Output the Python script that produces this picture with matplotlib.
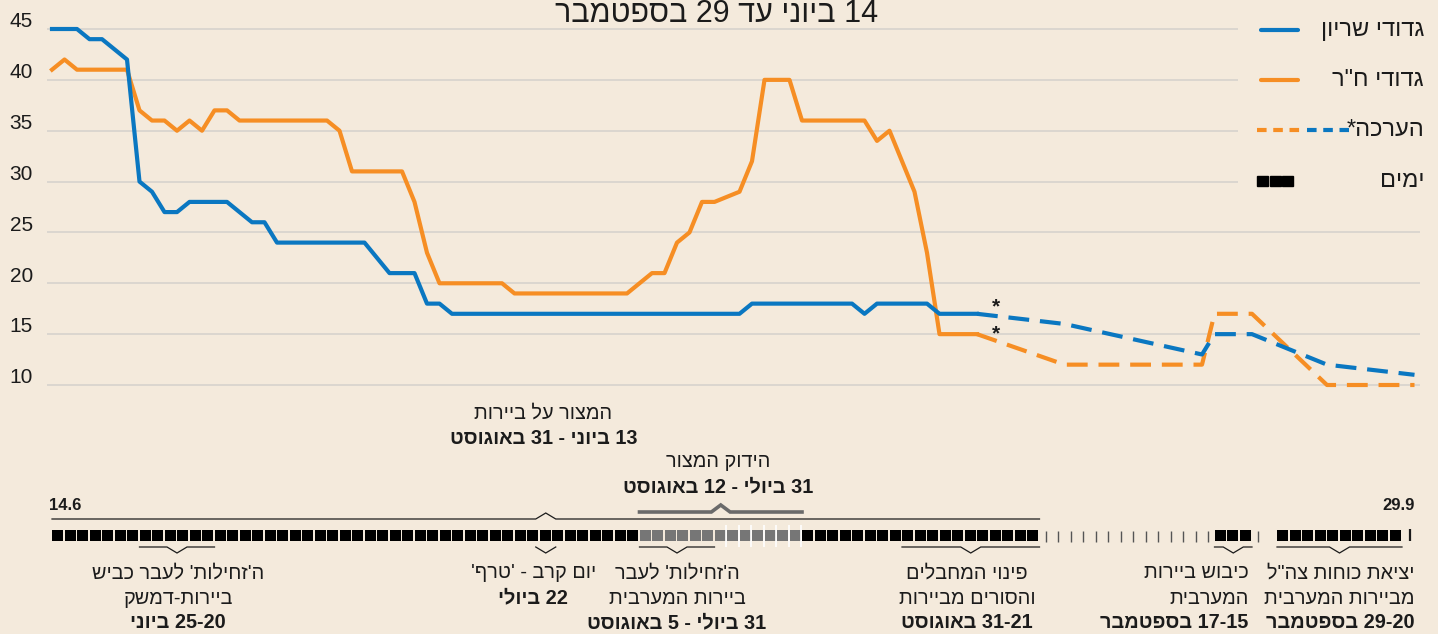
import re

import matplotlib
matplotlib.use('Agg')
import matplotlib.pyplot as plt
import matplotlib.transforms as mtransforms
from matplotlib.lines import Line2D
from matplotlib.patches import Rectangle

plt.rcParams['font.family'] = ['Liberation Sans', 'DejaVu Sans']

# ── data: day 0 = 14 June ─────────────────────────────────
armor_days = [0, 2, 3, 4, 6, 7, 8, 9, 10, 11, 14, 16, 17, 18, 25, 27, 29, 30, 31, 32,
              55, 56, 64, 65, 66, 70, 71, 74]
armor_vals = [45, 45, 44, 44, 42, 30, 29, 27, 27, 28, 28, 26, 26, 24, 24, 21, 21, 18, 18, 17,
              17, 18, 18, 17, 18, 18, 17, 17]

infantry_days = [0, 1, 2, 6, 7, 8, 9, 10, 11, 12, 13, 14, 15, 22, 23, 24, 28, 29, 30, 31,
                 36, 37, 46, 48, 49, 50, 51, 52, 53, 55, 56, 57, 59, 60, 65, 66, 67, 69, 70, 71, 74]
infantry_vals = [41, 42, 41, 41, 37, 36, 36, 35, 36, 35, 37, 37, 36, 36, 35, 31, 31, 28, 23, 20,
                 20, 19, 19, 21, 21, 24, 25, 28, 28, 29, 32, 40, 40, 36, 36, 34, 35, 29, 23, 15, 15]

# estimates
armor_est_days = [74, 81, 92, 93, 96, 102, 109]
armor_est_vals = [17, 16, 13, 15, 15, 12, 11]
infantry_est_days = [74, 81, 92, 93, 96, 102, 109]
infantry_est_vals = [15, 12, 12, 17, 17, 10, 10]

y_ticks = [45, 40, 35, 30, 25, 20, 15, 10]

# timeline of days
black_days = list(range(0, 47)) + list(range(60, 79)) + list(range(93, 96)) + list(range(98, 108))
gray_days = list(range(47, 60))
quiet_days = list(range(79, 93)) + [96]
marked_days = list(range(53, 60))

siege = (0, 79)
siege_tight = (47, 60)

event_spans = [(7, 13), (39, 40), (47, 53), (68, 79), (93, 96), (98, 108)]
event_lines = [
    ["ה'זחילות' לעבר כביש", "ביירות-דמשק"],
    ["יום קרב - 'טרף'"],
    ["ה'זחילות' לעבר", "ביירות המערבית"],
    ["פינוי המחבלים", "והסורים מביירות"],
    ["כיבוש ביירות", "המערבית"],
    ['יציאת כוחות צה"ל', "מביירות המערבית"],
]
event_dates = ["25-20 ביוני", "22 ביולי", "31 ביולי - 5 באוגוסט", "31-21 באוגוסט",
               "17-15 בספטמבר", "29-20 בספטמבר"]

# ── style ────────────────────────────────────────────────
W, H = 1438, 634
BG = '#f4eadc'
BLUE = '#0a77c1'
ORANGE = '#f68e24'
INK = '#1b1b1b'
GRID = '#d7d3cd'
GRAY = '#767676'
LW = 3.0
EST_DASH = (5.0, 2.6)
NOTE_FS = 14.3


def rtl(s):
    # matplotlib lays glyphs out left to right: flip Hebrew, keep numbers readable
    r = s[::-1]
    return re.sub(r'[0-9]+(?:[.\-][0-9]+)*', lambda m: m.group(0)[::-1], r)


def fxy(px, py):
    return px / W, 1 - py / H


fig = plt.figure(figsize=(W / 100, H / 100), dpi=100, facecolor=BG)

X0, X1 = 47, 1420
XLIM = (-0.4, 109.44)
SPLIT = 395

ax = fig.add_axes([X0 / W, (H - SPLIT) / H, (X1 - X0) / W, SPLIT / H])
ax.set_xlim(*XLIM)
ax.set_ylim(10 - 10 / 10.171, 45 + 29 / 10.171)
ax.axis('off')

ytrans = ax.get_yaxis_transform()
lab_tr = mtransforms.offset_copy(ytrans, fig=fig, y=1.2, units='points')
for v in y_ticks:
    xr = 0.8674 if v >= 30 else 1.0
    ax.plot([0, xr], [v, v], color=GRID, lw=1.2, transform=ytrans, zorder=1,
            solid_capstyle='butt')
    ax.text(-0.0102, v, str(v), transform=lab_tr, ha='right', va='baseline',
            fontsize=15, color=INK)

ax.plot(armor_days, armor_vals, color=BLUE, lw=LW, zorder=4)
ax.plot(infantry_days, infantry_vals, color=ORANGE, lw=LW, zorder=3)
ax.plot(armor_est_days, armor_est_vals, color=BLUE, lw=LW, dashes=EST_DASH,
        dash_capstyle='butt', zorder=4)
ax.plot(infantry_est_days, infantry_est_vals, color=ORANGE, lw=LW, dashes=EST_DASH,
        dash_capstyle='butt', zorder=3)

for yv in (17.1, 14.5):
    ax.text(75.5, yv, '*', ha='center', va='baseline', fontsize=15,
            fontweight='bold', color=INK)

fig.text(*fxy(717, 22), rtl("14 ביוני עד 29 בספטמבר"), ha='center', va='baseline',
         fontsize=22, color=INK)

# legend
legend_y = [30, 80, 130, 181]
legend_txt = ["גדודי שריון", 'גדודי ח"ר', "הערכה*", "ימים"]
for y, t in zip(legend_y, legend_txt):
    fig.text(*fxy(1424, y), rtl(t), ha='right', va='center', fontsize=17, color=INK)
for y, c in ((legend_y[0], BLUE), (legend_y[1], ORANGE)):
    fig.add_artist(Line2D([1261 / W, 1298 / W], [1 - y / H] * 2, color=c, lw=LW,
                          solid_capstyle='round'))
fig.add_artist(Line2D([1257 / W, 1301 / W], [1 - legend_y[2] / H] * 2, color=ORANGE,
                      lw=LW, dashes=(2.3, 1.6), dash_capstyle='butt'))
fig.add_artist(Line2D([1307 / W, 1349 / W], [1 - legend_y[2] / H] * 2, color=BLUE,
                      lw=LW, dashes=(2.3, 1.6), dash_capstyle='butt'))
for i in range(3):
    x0 = 1257 + i * 12.5
    fig.add_artist(Rectangle(fxy(x0, legend_y[3] + 5), 11 / W, 10 / H, color='black',
                             transform=fig.transFigure))

# ── timeline ─────────────────────────────────────────────
tl = fig.add_axes([X0 / W, 0, (X1 - X0) / W, (H - SPLIT) / H])
tl.set_xlim(*XLIM)
tl.set_ylim(H, SPLIT)
tl.axis('off')

GAP = 0.12
tl.bar(black_days, 11, bottom=530, width=1 - GAP, align='edge', color='black')
tl.bar(gray_days, 11, bottom=530, width=1 - GAP, align='edge', color=GRAY)
tl.vlines([d + 1 - GAP / 2 for d in marked_days], 525, 547, color='white', lw=1.2)
tl.vlines([d + 0.5 for d in quiet_days], 531, 542, color='#555555', lw=1)
tl.vlines(108.6, 529, 541, color=INK, lw=1.6)

tl.text(-0.2, 505, "14.6", ha='left', va='center', fontsize=12, fontweight='bold', color=INK)
tl.text(109.0, 505, "29.9", ha='right', va='center', fontsize=12, fontweight='bold', color=INK)


def caret_line(a, b, y, h, hw, **kw):
    c = (a + b) / 2
    xs = [min(a, c - hw), c - hw, c, c + hw, max(b, c + hw)]
    ys = [y, y, y + h, y, y]
    tl.plot(xs, ys, solid_joinstyle='miter', **kw)


caret_line(*siege, 519, -6, 0.8, color=INK, lw=0.9)
caret_line(*siege_tight, 512, -7, 0.75, color='#6a6a6a', lw=2.6)

tl.text(39.3, 413, rtl("המצור על ביירות"), ha='center', va='center', fontsize=NOTE_FS, color=INK)
tl.text(39.3, 438, rtl("13 ביוני - 31 באוגוסט"), ha='center', va='center', fontsize=NOTE_FS,
        fontweight='bold', color=INK)
tl.text(53.3, 461, rtl("הידוק המצור"), ha='center', va='center', fontsize=NOTE_FS, color=INK)
tl.text(53.3, 487, rtl("31 ביולי - 12 באוגוסט"), ha='center', va='center', fontsize=NOTE_FS,
        fontweight='bold', color=INK)

label_anchor = [(10.1, 'center'), (38.5, 'center'), (50.0, 'center'), (73.2, 'center'),
                (95.7, 'right'), (109.0, 'right')]
rows = [573, 598, 623]
for (a, b), lines, date, (lx, ha) in zip(event_spans, event_lines, event_dates, label_anchor):
    caret_line(a, b, 547, 6, 0.8, color=INK, lw=0.9)
    for r, t in zip(rows, lines):
        tl.text(lx, r, rtl(t), ha=ha, va='center', fontsize=NOTE_FS, color=INK)
    tl.text(lx, rows[len(lines)], rtl(date), ha=ha, va='center', fontsize=NOTE_FS,
            fontweight='bold', color=INK)

fig.savefig('out.png', dpi=100, facecolor=BG)
